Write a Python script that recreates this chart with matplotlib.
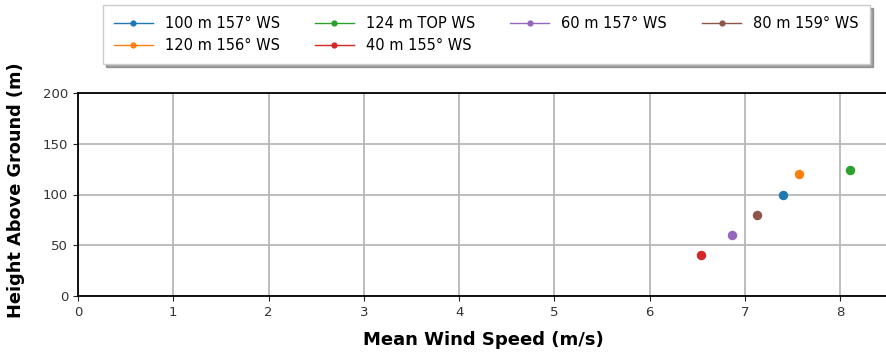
import matplotlib.pyplot as plt

# mean wind speed per sensor
labels = ["100 m 157° WS", "120 m 156° WS", "124 m TOP WS",
          "40 m 155° WS", "60 m 157° WS", "80 m 159° WS"]
speeds = [7.40, 7.57, 8.10, 6.54, 6.86, 7.13]
heights = [100, 120, 124, 40, 60, 80]

fig = plt.figure(figsize=(8.86, 3.54), dpi=100)
ax = fig.add_axes([78 / 886, 1 - 296 / 354, 810 / 886, 203 / 354])

for lab, s, h in zip(labels, speeds, heights):
    ax.plot([s], [h], marker="o", markersize=5.8, linewidth=1.0, label=lab)

ax.set_xlim(0, 8.5)
ax.set_ylim(0, 200)
ax.set_xticks(range(0, 9))
ax.set_yticks(range(0, 201, 50))
ax.grid(True, color="#b8b8b8", linewidth=1.3)
ax.tick_params(labelsize=9.5, colors="#222222", labelcolor="#333333")
for sp in ax.spines.values():
    sp.set_linewidth(1.3)
ax.set_xlabel("Mean Wind Speed (m/s)", fontsize=13, fontweight="bold", labelpad=9)
ax.set_ylabel("Height Above Ground (m)", fontsize=12.8, fontweight="bold")
ax.yaxis.set_label_coords(-0.065, 0.52)

fig.legend(loc="upper left", bbox_to_anchor=(103 / 886, 1 - 5 / 354),
           ncol=4, fontsize=10.5, shadow=True, fancybox=False,
           borderaxespad=0, columnspacing=2.4, handlelength=2.65,
           handletextpad=0.85, markerscale=0.6, labelspacing=0.5,
           borderpad=0.75)

fig.savefig("out.png", dpi=100)
